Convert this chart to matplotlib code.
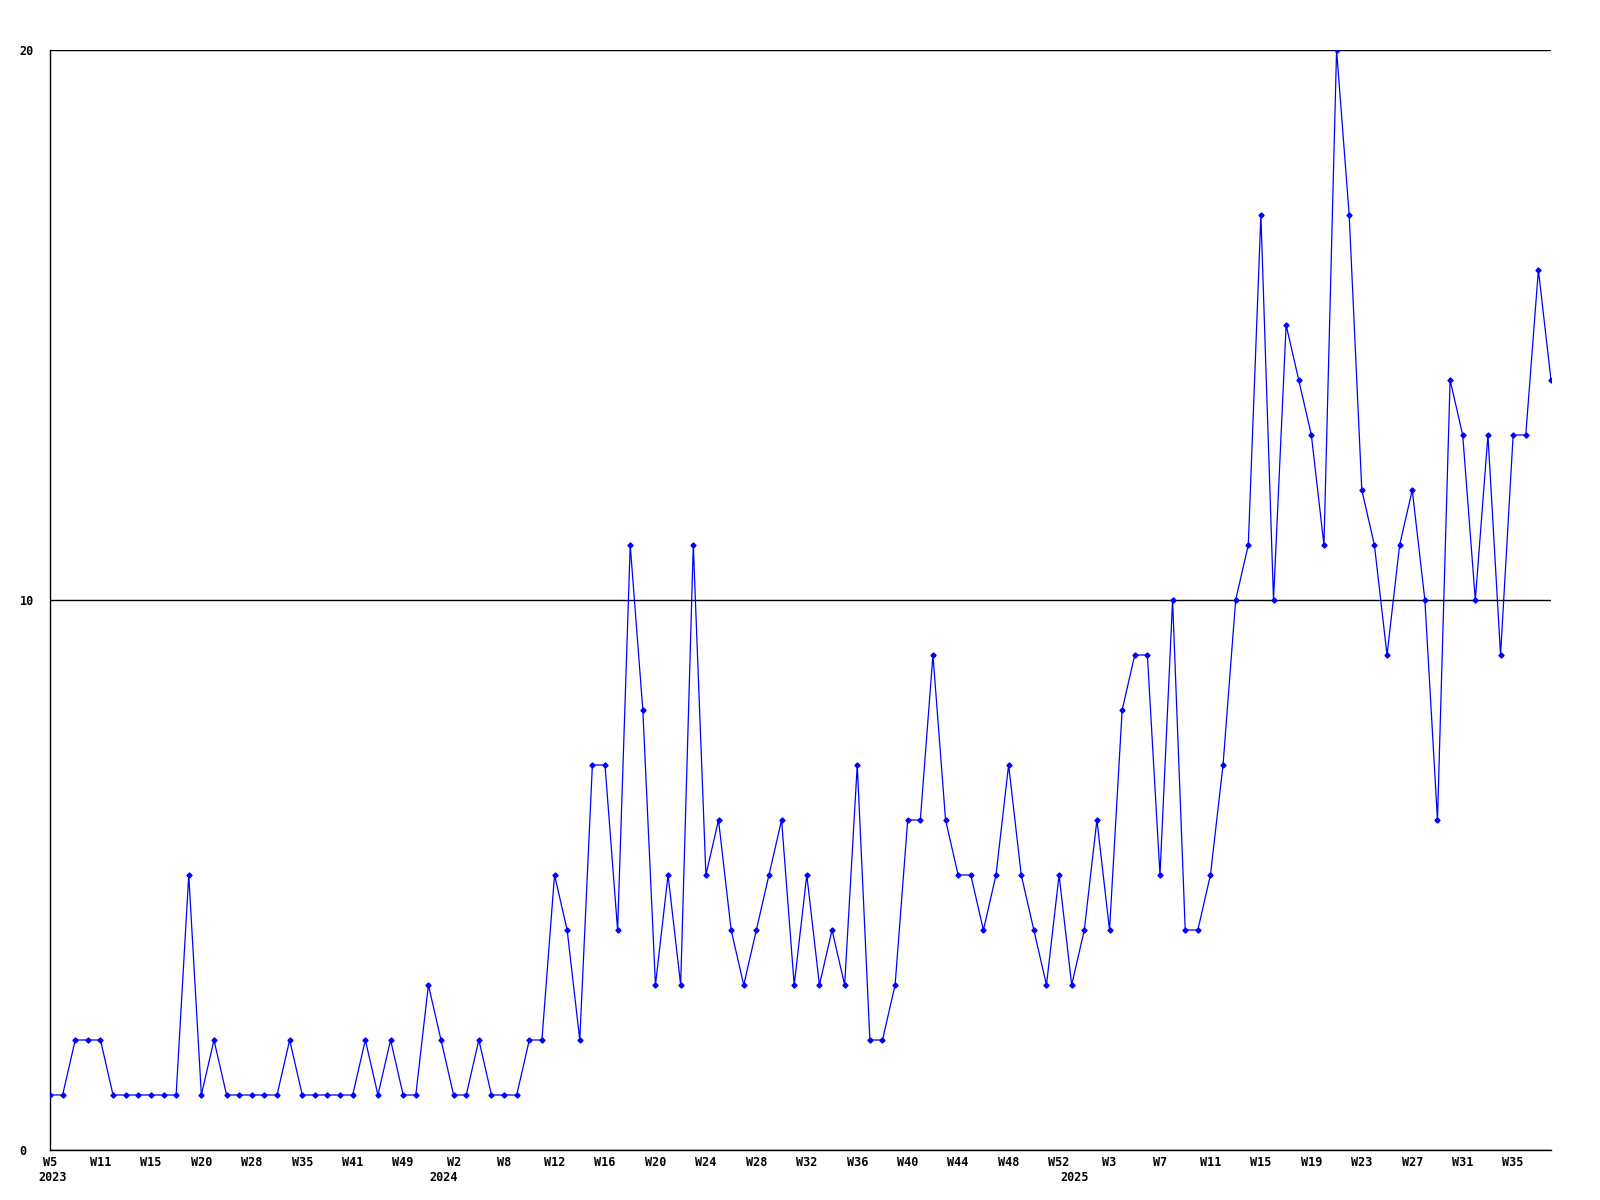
import numpy as np
import matplotlib
matplotlib.use('Agg')
import matplotlib.pyplot as plt
import matplotlib.transforms as mtransforms

# weekly counts, one point per listed week
values = [1, 1, 2, 2, 2, 1, 1, 1, 1, 1, 1, 5, 1, 2, 1, 1, 1, 1, 1, 2,
          1, 1, 1, 1, 1, 2, 1, 2, 1, 1, 3, 2, 1, 1, 2, 1, 1, 1, 2, 2,
          5, 4, 2, 7, 7, 4, 11, 8, 3, 5, 3, 11, 5, 6, 4, 3, 4, 5, 6, 3,
          5, 3, 4, 3, 7, 2, 2, 3, 6, 6, 9, 6, 5, 5, 4, 5, 7, 5, 4, 3,
          5, 3, 4, 6, 4, 8, 9, 9, 5, 10, 4, 4, 5, 7, 10, 11, 17, 10, 15, 14,
          13, 11, 20, 17, 12, 11, 9, 11, 12, 10, 6, 14, 13, 10, 13, 9, 13, 13, 16, 14]

week_labels = ['W5', 'W11', 'W15', 'W20', 'W28', 'W35', 'W41', 'W49', 'W2', 'W8',
               'W12', 'W16', 'W20', 'W24', 'W28', 'W32', 'W36', 'W40', 'W44', 'W48',
               'W52', 'W3', 'W7', 'W11', 'W15', 'W19', 'W23', 'W27', 'W31', 'W35']
label_step = 4

years = ['2023', '2024', '2025']
year_start = [0, 31, 81]

y_ticks = [0, 10, 20]

x = np.arange(len(values))
font = dict(family='DejaVu Sans Mono', fontweight='bold', fontsize=8.5)

fig = plt.figure(figsize=(16, 12), dpi=100)
ax = fig.add_axes([50 / 1600, 50 / 1200, 1501 / 1600, 1100 / 1200])

ax.plot(x, values, color='#0000ff', linewidth=0.9, marker='D', markersize=2.6,
        markerfacecolor='#0000ff', markeredgecolor='#0000ff', zorder=3)

ax.set_xlim(0, len(values) - 1)
ax.set_ylim(0, 20)

ax.set_yticks(y_ticks)
ax.set_yticklabels([str(t) for t in y_ticks], **font)
for lab in ax.get_yticklabels():
    lab.set_horizontalalignment('left')
ax.tick_params(axis='y', length=0, pad=22)

ax.set_xticks(x[::label_step][:len(week_labels)])
ax.set_xticklabels(week_labels, **font)
ax.tick_params(axis='x', length=0, pad=4)

# year labels sit a little right of the first week of each year
year_tr = ax.get_xaxis_transform() + mtransforms.ScaledTranslation(3 / 100, 0, fig.dpi_scale_trans)
for yr, pos in zip(years, year_start):
    ax.text(pos, -0.019, yr, transform=year_tr, ha='center', va='top', **font)

ax.grid(axis='y', color='black', linewidth=1.0)
ax.set_axisbelow(True)
for side in ['top', 'right']:
    ax.spines[side].set_visible(False)
for side in ['left', 'bottom']:
    ax.spines[side].set_color('black')
    ax.spines[side].set_linewidth(1.0)

fig.savefig('out.png', dpi=100, facecolor='white')
